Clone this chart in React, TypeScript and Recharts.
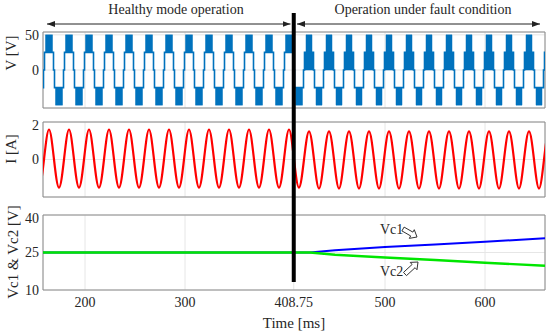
import React from 'react';
import { LineChart, Line, XAxis, YAxis, CartesianGrid, ReferenceArea } from 'recharts';

const FONT = '"Liberation Serif", "Times New Roman", serif';
const X_MIN = 158;
const X_MAX = 660;
const FAULT_TIME = 408.75;
const xTicks = [200, 300, 408.75, 500, 600];

// positive peaks of the 50 Hz waveforms (ms)
const peakTimes = [
  144, 164, 184, 204, 224, 244, 264, 284, 304, 324, 344, 364, 384, 404,
  424, 444, 464, 484, 504, 524, 544, 564, 584, 604, 624, 644, 664,
];

// staircase shelves of V: offset from each peak (ms) and level (V)
const stairOffsets = [-4.5, 4.5, 5.5, 14.5];
const stairLevels = [25, 0, -25, 0];

// PWM switching bands around each peak
const healthyBands = [
  { from: -3.5, to: 3.5, lo: 25, hi: 50 },
  { from: 6.5, to: 13.5, lo: -50, hi: -25 },
];
const faultBands = [
  { from: -4.5, to: 4.5, lo: 0, hi: 25 },
  { from: -3, to: 3, lo: 25, hi: 50 },
  { from: 7, to: 13, lo: -50, hi: -25 },
];

// current: zero crossing, peak, zero crossing, trough
const currentOffsets = [-5, 0, 5, 10];
const healthyCurrent = [0, 1.6, 0, -1.5];
const faultCurrent = [0, 1.5, 0, -1.55];

// capacitor voltages
const vcTimes = [158, 425, 450, 500, 550, 600, 660];
const vc1 = [25, 25, 25.9, 27.2, 28.2, 29.3, 30.7];
const vc2 = [25, 25, 24.1, 23.0, 22.0, 20.9, 19.7];

const stairData = peakTimes.flatMap((p) =>
  stairOffsets.map((o, i) => ({ t: p + o, v: stairLevels[i] }))
);
const bands = peakTimes.flatMap((p) =>
  (p < FAULT_TIME ? healthyBands : faultBands).map((b) => ({
    x1: p + b.from,
    x2: p + b.to,
    y1: b.lo,
    y2: b.hi,
  }))
);
const currentData = peakTimes.flatMap((p) =>
  currentOffsets.map((o, i) => ({
    t: p + o,
    i: (p < FAULT_TIME ? healthyCurrent : faultCurrent)[i],
  }))
);
const vcData = vcTimes.map((t, k) => ({ t, vc1: vc1[k], vc2: vc2[k] }));

// layout
const W = 550;
const PLOT_LEFT = 43;
const PLOT_RIGHT = 545;
const px = (t: number) => PLOT_LEFT + ((t - X_MIN) / (X_MAX - X_MIN)) * (PLOT_RIGHT - PLOT_LEFT);

const tickStyle = { fontFamily: FONT, fontSize: 14, fill: '#262626' };
const BOX = '#8a8a8a';

function blockArrow(x1: number, y1: number, x2: number, y2: number) {
  const dx = x2 - x1;
  const dy = y2 - y1;
  const len = Math.hypot(dx, dy);
  const ux = dx / len;
  const uy = dy / len;
  const nx = -uy;
  const ny = ux;
  const head = 6;
  const sw = 2.2;
  const hw = 5;
  const bx = x2 - ux * head;
  const by = y2 - uy * head;
  const pts = [
    [x1 + nx * sw, y1 + ny * sw],
    [bx + nx * sw, by + ny * sw],
    [bx + nx * hw, by + ny * hw],
    [x2, y2],
    [bx - nx * hw, by - ny * hw],
    [bx - nx * sw, by - ny * sw],
    [x1 - nx * sw, y1 - ny * sw],
  ];
  return pts.map((q) => q.join(',')).join(' ');
}

function xAxisProps() {
  return {
    dataKey: 't',
    type: 'number' as const,
    domain: [X_MIN, X_MAX],
    ticks: xTicks,
    allowDataOverflow: true,
  };
}

export default function App() {
  return (
    <div style={{ position: 'absolute', left: 0, top: 0, width: W, height: 334, background: '#fff' }}>
      {/* V [V] */}
      <div style={{ position: 'absolute', left: 0, top: 27 }}>
        <LineChart width={W} height={86} margin={{ top: 5, right: W - PLOT_RIGHT, bottom: 5, left: 0 }}>
          <CartesianGrid stroke="#e6e6e6" />
          <XAxis {...xAxisProps()} hide />
          <YAxis
            width={PLOT_LEFT}
            domain={[-54, 54]}
            ticks={[-50, 0, 50]}
            tick={tickStyle}
            tickLine={false}
            axisLine={false}
            tickSize={0}
            tickMargin={4}
            allowDataOverflow
          />
          <ReferenceArea x1={X_MIN} x2={X_MAX} y1={-54} y2={54} fill="none" stroke={BOX} strokeWidth={1} />
          {bands.map((b, k) => (
            <ReferenceArea
              key={k}
              x1={b.x1}
              x2={b.x2}
              y1={b.y1}
              y2={b.y2}
              fill="#0072BD"
              fillOpacity={1}
              stroke="#0072BD"
              strokeWidth={0.5}
              ifOverflow="hidden"
            />
          ))}
          <Line
            data={stairData}
            dataKey="v"
            type="stepAfter"
            stroke="#0072BD"
            strokeWidth={1.6}
            dot={false}
            isAnimationActive={false}
          />
        </LineChart>
      </div>

      {/* I [A] */}
      <div style={{ position: 'absolute', left: 0, top: 117 }}>
        <LineChart width={W} height={85} margin={{ top: 5, right: W - PLOT_RIGHT, bottom: 5, left: 0 }}>
          <CartesianGrid stroke="#e6e6e6" />
          <XAxis {...xAxisProps()} hide />
          <YAxis
            width={PLOT_LEFT}
            domain={[-2, 2]}
            ticks={[-2, 0, 2]}
            tick={tickStyle}
            tickLine={false}
            axisLine={false}
            tickSize={0}
            tickMargin={4}
          />
          <ReferenceArea x1={X_MIN} x2={X_MAX} y1={-2} y2={2} fill="none" stroke={BOX} strokeWidth={1} />
          <Line
            data={currentData}
            dataKey="i"
            type="natural"
            stroke="#ff0000"
            strokeWidth={2.2}
            dot={false}
            isAnimationActive={false}
          />
        </LineChart>
      </div>

      {/* Vc1 & Vc2 [V] */}
      <div style={{ position: 'absolute', left: 0, top: 210 }}>
        <LineChart
          width={W}
          height={124}
          data={vcData}
          margin={{ top: 5, right: W - PLOT_RIGHT, bottom: 4, left: 0 }}
        >
          <CartesianGrid stroke="#e6e6e6" />
          <XAxis
            {...xAxisProps()}
            height={40}
            tick={tickStyle}
            tickLine={false}
            axisLine={false}
            tickSize={0}
            tickMargin={7}
            tickFormatter={(v: number) => String(v)}
            label={{
              value: 'Time [ms]',
              position: 'insideBottom',
              offset: 2,
              style: { fontFamily: FONT, fontSize: 15, fill: '#262626' },
            }}
          />
          <YAxis
            width={PLOT_LEFT}
            domain={[10, 40]}
            ticks={[10, 25, 40]}
            tick={tickStyle}
            tickLine={false}
            axisLine={false}
            tickSize={0}
            tickMargin={4}
          />
          <ReferenceArea x1={X_MIN} x2={X_MAX} y1={10} y2={40} fill="none" stroke={BOX} strokeWidth={1} />
          <Line dataKey="vc1" type="linear" stroke="#0000ff" strokeWidth={2} dot={false} isAnimationActive={false} />
          <Line dataKey="vc2" type="linear" stroke="#00e600" strokeWidth={2.4} dot={false} isAnimationActive={false} />
        </LineChart>
      </div>

      {/* annotations */}
      <svg width={W} height={334} style={{ position: 'absolute', left: 0, top: 0, pointerEvents: 'none' }}>
        <defs>
          <marker id="ah" markerWidth="8" markerHeight="6" refX="8" refY="3" orient="auto-start-reverse" markerUnits="userSpaceOnUse">
            <path d="M0,0 L8,3 L0,6 Z" fill="#222" />
          </marker>
        </defs>
        <text x={176} y={14} textAnchor="middle" fontFamily={FONT} fontSize={14} fill="#262626">
          Healthy mode operation
        </text>
        <text x={423} y={14} textAnchor="middle" fontFamily={FONT} fontSize={14} fill="#262626">
          Operation under fault condition
        </text>
        <line x1={px(162)} y1={24} x2={px(405.5)} y2={24} stroke="#222" strokeWidth={1} markerStart="url(#ah)" markerEnd="url(#ah)" />
        <line x1={px(412)} y1={24} x2={px(655)} y2={24} stroke="#222" strokeWidth={1} markerStart="url(#ah)" markerEnd="url(#ah)" />
        <line x1={px(FAULT_TIME)} y1={13} x2={px(FAULT_TIME)} y2={282} stroke="#000" strokeWidth={4} />

        <text transform="translate(11,53) rotate(-90)" textAnchor="middle" dominantBaseline="central" fontFamily={FONT} fontSize={15} fill="#262626">
          V [V]
        </text>
        <text transform="translate(11,149) rotate(-90)" textAnchor="middle" dominantBaseline="central" fontFamily={FONT} fontSize={15} fill="#262626">
          I [A]
        </text>
        <text transform="translate(13,252) rotate(-90)" textAnchor="middle" dominantBaseline="central" fontFamily={FONT} fontSize={15} fill="#262626">
          Vc1 &amp; Vc2 [V]
        </text>

        <text x={380} y={234} fontFamily={FONT} fontSize={14} fill="#262626">Vc1</text>
        <polygon points={blockArrow(403, 229, 417, 237)} fill="#fff" stroke="#333" strokeWidth={1} />
        <text x={380} y={276} fontFamily={FONT} fontSize={14} fill="#262626">Vc2</text>
        <polygon points={blockArrow(405, 274, 418, 262)} fill="#fff" stroke="#333" strokeWidth={1} />
      </svg>
    </div>
  );
}
